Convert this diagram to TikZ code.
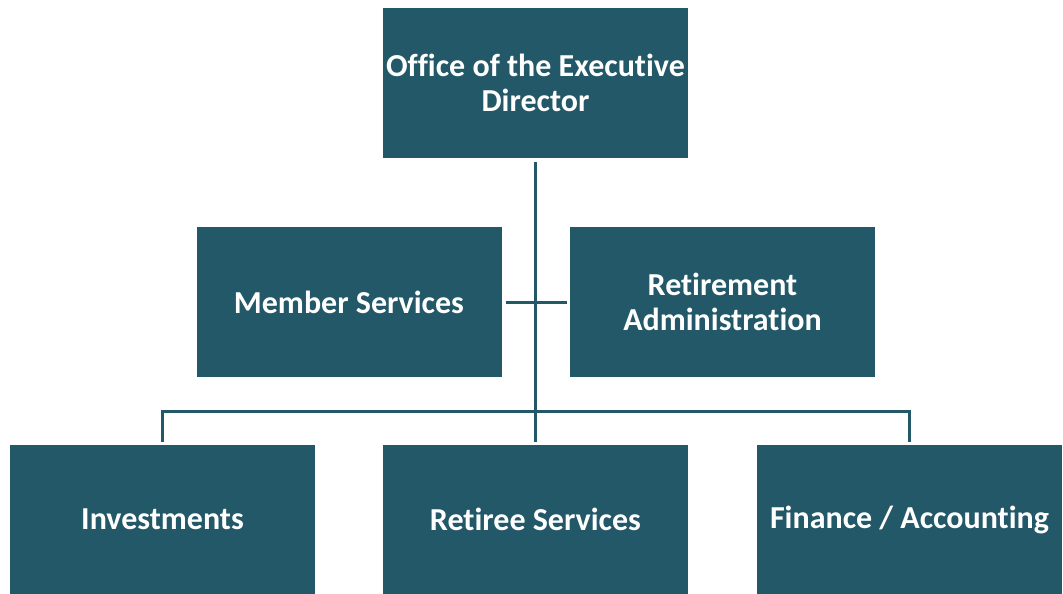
\documentclass[tikz,border=0pt]{standalone}
\usepackage{fontspec}
\setmainfont{Carlito}[Ligatures=NoCommon]
\usepackage{tikz}
\usetikzlibrary{calc}
\definecolor{teal}{RGB}{34,88,104}
\tikzset{
  unit/.style={fill=teal, draw=none, text=white, font=\bfseries\fontsize{32}{35}\selectfont,
    align=center, minimum width=305pt, minimum height=150pt, inner sep=0pt},
  link/.style={draw=teal, line width=3pt}
}
\begin{document}
\begin{tikzpicture}[x=1pt,y=-1pt]
\useasboundingbox (0,0) rectangle (1063,594);
% boxes
\node[unit] (office) at (535.5,83) {Office of the Executive\\Director};
\node[unit] (members) at (349,302) {Member Services};
\node[unit] (admin) at (722.5,302) {Retirement\\Administration};
\node[unit, minimum height=149pt] (invest) at (162.5,519.5) {Investments};
\node[unit, minimum height=149pt] (retiree) at (535.5,519.5) {Retiree Services};
\node[unit, minimum height=149pt] (finance) at (909.5,519.5) {Finance / Accounting};
% connectors
\coordinate (bar) at (535.5,411);
\draw[link] ([yshift=-4pt]office.south) -- ([yshift=3pt]retiree.north);
\draw[link] ([xshift=4pt]members.east) -- ([xshift=-3pt]admin.west);
\draw[link] ([yshift=3pt]invest.north) |- (bar) -| ([yshift=3pt]finance.north);
\end{tikzpicture}
\end{document}
